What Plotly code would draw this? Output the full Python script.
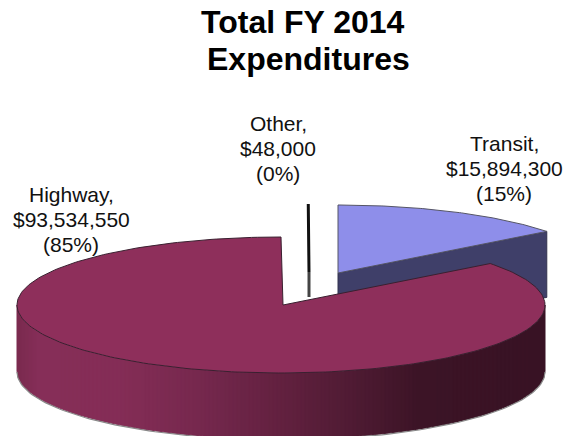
import math
import plotly.graph_objects as go

categories = ["Highway", "Other", "Transit"]
values = [93534550, 48000, 15894300]
title_lines = ["Total FY 2014", "Expenditures"]

W, H = 565, 436
RX, RY, DEPTH = 264, 68, 66
centers = {"Highway": (281, 305), "Other": (309, 272), "Transit": (338, 273)}
top_colors = {"Highway": "#8e2f5b", "Other": "#111111", "Transit": "#8e8eea"}
side_colors = {"Other": "#111111", "Transit": "#3f3f69"}
label_pos = {"Highway": (71, 194), "Other": (278, 123), "Transit": (504, 143)}
LABEL_STEP = 25
title_pos = [(303, 22), (308, 59)]
shade_stops = [(17, (122, 42, 78)), (40, (134, 46, 88)), (120, (132, 45, 86)), (200, (118, 40, 78)),
               (290, (96, 32, 62)), (350, (80, 27, 52)), (420, (60, 20, 38)), (545, (56, 18, 36))]

total = sum(values)
fig = go.Figure()


def poly(xs, ys, fill, line=None, width=1.0):
    fig.add_trace(go.Scatter(x=xs, y=ys, mode="lines", fill="toself", fillcolor=fill,
                             line=dict(color=line or fill, width=width), hoverinfo="skip", showlegend=False))


def rim(name, a0, a1, steps=120):
    cx, cy = centers[name]
    pts = [a0 + (a1 - a0) * i / steps for i in range(steps + 1)]
    return ([cx + RX * math.sin(a) for a in pts], [cy - RY * math.cos(a) for a in pts])


def shade(x):
    for (x0, c0), (x1, c1) in zip(shade_stops, shade_stops[1:]):
        if x <= x1:
            t = max(0, (x - x0) / (x1 - x0))
            return "rgb(%d,%d,%d)" % tuple(round(a + (b - a) * t) for a, b in zip(c0, c1))
    return "rgb(%d,%d,%d)" % shade_stops[-1][1]


# angles, clockwise from 12 o'clock, running Transit -> Other -> Highway
transit_sweep = values[2] / total * 2 * math.pi
other_sweep = values[1] / total * 2 * math.pi
highway_start = transit_sweep + other_sweep

# Other: thin exploded sliver
cx, cy = centers["Other"]
rx, ry = rim("Other", -other_sweep, 0, 2)
poly([cx] + rx + [cx], [cy] + ry + [cy], "#111111", "#111111", 3)
poly([cx, cx], [cy, cy + DEPTH - 41], "#444444", "#444444", 3)

# Transit
cx, cy = centers["Transit"]
rx, ry = rim("Transit", 0, transit_sweep)
poly([cx, rx[-1], rx[-1], cx, cx], [cy, ry[-1], ry[-1] + DEPTH, cy + DEPTH, cy], side_colors["Transit"], "#33334f", 1)
poly([cx] + rx + [cx], [cy] + ry + [cy], top_colors["Transit"], "#555566", 1)

# Highway side wall, visible part of the rim, in equal-width vertical bands
cx, cy = centers["Highway"]
band_w = RX * 2 / 132
for i in range(132):
    x0, x1 = cx - RX + band_w * i, cx - RX + band_w * (i + 1)
    px = [x0 + (x1 - x0) * k / 4 for k in range(5)]
    py = [cy + RY * math.sqrt(max(0, 1 - ((p - cx) / RX) ** 2)) for p in px]
    poly(px + px[::-1] + [px[0]], py + [p + DEPTH for p in py[::-1]] + [py[0]], shade((x0 + x1) / 2))

bx, by = rim("Highway", math.pi / 2, 3 * math.pi / 2)
fig.add_trace(go.Scatter(x=bx, y=[v + DEPTH + 1 for v in by], mode="lines",
                         line=dict(color="#888888", width=1.2), hoverinfo="skip", showlegend=False))

# Highway top face
rx, ry = rim("Highway", highway_start, 2 * math.pi, 240)
poly([cx + 2] + rx + [cx + 2], [cy] + ry + [cy], top_colors["Highway"], "#3a2030", 1)

annotations = []
for name, v in zip(categories, values):
    lx, ly = label_pos[name]
    for j, text in enumerate([f"{name},", f"${v:,}", f"({round(v / total * 100)}%)"]):
        annotations.append(dict(x=lx, y=ly + j * LABEL_STEP, xref="x", yref="y", text=text, showarrow=False,
                                xanchor="center", yanchor="middle",
                                font=dict(family="Liberation Sans", size=21, color="#111111")))
for line, (tx, ty) in zip(title_lines, title_pos):
    annotations.append(dict(x=tx, y=ty, xref="x", yref="y", text=line, showarrow=False,
                            xanchor="center", yanchor="middle",
                            font=dict(family="Liberation Sans", size=32, color="#000000", weight="bold")))

fig.update_layout(width=W, height=H, margin=dict(l=0, r=0, t=0, b=0), paper_bgcolor="white", plot_bgcolor="white",
                  showlegend=False, annotations=annotations, hovermode=False,
                  xaxis=dict(range=[0, W], visible=False, fixedrange=True),
                  yaxis=dict(range=[H, 0], visible=False, fixedrange=True))
fig.write_html("out.html", config=dict(displayModeBar=False),
               post_script="document.body.style.margin='0';document.documentElement.style.overflow='hidden';")
